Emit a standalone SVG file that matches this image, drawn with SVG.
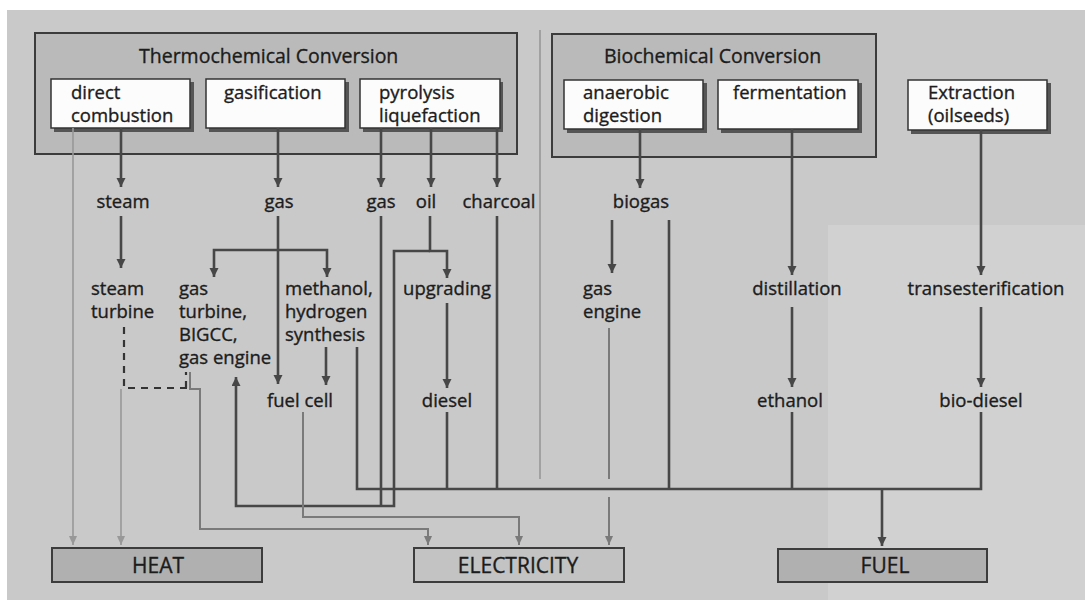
<svg xmlns="http://www.w3.org/2000/svg" width="1085" height="600" viewBox="0 0 1085 600">
<defs>
<style>
text{font-family:"Open Sans","Liberation Sans",sans-serif;font-size:18.5px;fill:#1c1c1c;stroke:#1c1c1c;stroke-width:0.35}
.title{font-size:19.5px}
.big{font-size:21px}
.mid{text-anchor:middle}
.grp{fill:#bababa;stroke:#3c3c3c;stroke-width:2}
.box{fill:#fcfcfc;stroke:#333;stroke-width:1.5}
.shadow{fill:#555}
.dk{fill:none;stroke:#474747;stroke-width:2.6}
.md{fill:none;stroke:#7a7a7a;stroke-width:2}
.lt{fill:none;stroke:#989898;stroke-width:1.6}
.dash{fill:none;stroke:#333;stroke-width:2.2;stroke-dasharray:7 6}
.out{stroke:#3c3c3c;stroke-width:2}
</style>
<marker id="aD" markerUnits="userSpaceOnUse" markerWidth="10" markerHeight="10" refX="9" refY="4.5" orient="auto"><path d="M0,0 L9,4.5 L0,9 z" fill="#474747"/></marker>
<marker id="aM" markerUnits="userSpaceOnUse" markerWidth="10" markerHeight="10" refX="9" refY="4" orient="auto"><path d="M0,0 L9,4 L0,8 z" fill="#7a7a7a"/></marker>
<marker id="aL" markerUnits="userSpaceOnUse" markerWidth="10" markerHeight="10" refX="9" refY="4" orient="auto"><path d="M0,0 L9,4 L0,8 z" fill="#989898"/></marker>
</defs>
<rect x="0" y="0" width="1085" height="600" fill="#ffffff"/>
<rect x="7" y="10" width="1078" height="590" fill="#c9c9c9"/>
<rect x="828" y="225" width="257" height="375" fill="#d1d1d1"/>
<line x1="540" y1="30" x2="540" y2="479" stroke="#8c8c8c" stroke-width="1.3"/>

<g id="thermochemical">
<rect class="grp" x="35" y="33" width="482" height="121"/>
<text class="title" x="139" y="63">Thermochemical Conversion</text>
</g>
<g id="biochemical">
<rect class="grp" x="552" y="34" width="324" height="123"/>
<text class="title" x="604" y="63">Biochemical Conversion</text>
</g>

<g id="direct-combustion">
<rect class="shadow" x="54" y="82" width="140" height="50"/>
<rect class="box" x="51" y="79" width="139" height="49"/>
<text x="71" y="99">direct</text><text x="71" y="122">combustion</text>
</g>
<g id="gasification">
<rect class="shadow" x="209" y="82" width="140" height="50"/>
<rect class="box" x="206" y="79" width="139" height="49"/>
<text x="224" y="99">gasification</text>
</g>
<g id="pyrolysis">
<rect class="shadow" x="363" y="82" width="140" height="50"/>
<rect class="box" x="360" y="79" width="140" height="49"/>
<text x="379" y="99">pyrolysis</text><text x="379" y="122">liquefaction</text>
</g>
<g id="anaerobic">
<rect class="shadow" x="567" y="83" width="140" height="50"/>
<rect class="box" x="564" y="80" width="139" height="49"/>
<text x="583" y="99">anaerobic</text><text x="583" y="122">digestion</text>
</g>
<g id="fermentation">
<rect class="shadow" x="721" y="83" width="141" height="50"/>
<rect class="box" x="718" y="80" width="140" height="49"/>
<text x="733" y="99">fermentation</text>
</g>
<g id="extraction">
<rect class="shadow" x="911" y="83" width="140" height="51"/>
<rect class="box" x="908" y="80" width="139" height="50"/>
<text x="928" y="99">Extraction</text><text x="928" y="122">(oilseeds)</text>
</g>

<g id="steam"><text class="mid" x="123" y="208">steam</text></g>
<g id="gas1"><text class="mid" x="279" y="208">gas</text></g>
<g id="gas2"><text class="mid" x="381" y="208">gas</text></g>
<g id="oil"><text class="mid" x="426" y="208">oil</text></g>
<g id="charcoal"><text class="mid" x="499" y="208">charcoal</text></g>
<g id="biogas"><text class="mid" x="641" y="208">biogas</text></g>

<g id="steam-turbine"><text x="91" y="295">steam</text><text x="91" y="318">turbine</text></g>
<g id="gas-turbine"><text x="179" y="295">gas</text><text x="179" y="318">turbine,</text><text x="179" y="341">BIGCC,</text><text x="179" y="364">gas engine</text></g>
<g id="methanol"><text x="285" y="295">methanol,</text><text x="285" y="318">hydrogen</text><text x="285" y="341">synthesis</text></g>
<g id="upgrading"><text class="mid" x="447" y="295">upgrading</text></g>
<g id="bio-gas-engine"><text x="583" y="295">gas</text><text x="583" y="318">engine</text></g>
<g id="distillation"><text class="mid" x="797" y="295">distillation</text></g>
<g id="transesterification"><text class="mid" x="986" y="295">transesterification</text></g>
<g id="fuel-cell"><text class="mid" x="300" y="407">fuel cell</text></g>
<g id="diesel"><text class="mid" x="447" y="407">diesel</text></g>
<g id="ethanol"><text class="mid" x="790" y="407">ethanol</text></g>
<g id="bio-diesel"><text class="mid" x="981" y="407">bio-diesel</text></g>

<g id="heat"><rect class="out" x="52" y="548" width="210" height="34" fill="#b0b0b0"/><text class="big mid" x="158" y="573">HEAT</text></g>
<g id="electricity"><rect class="out" x="414" y="548" width="210" height="34" fill="#c3c3c3"/><text class="big mid" x="518" y="573">ELECTRICITY</text></g>
<g id="fuel"><rect class="out" x="778" y="549" width="209" height="33" fill="#b0b0b0"/><text class="big mid" x="885" y="573">FUEL</text></g>

<g id="connectors">
<path class="dk" d="M121,128 V187" marker-end="url(#aD)"/>
<path class="dk" d="M278,128 V187" marker-end="url(#aD)"/>
<path class="dk" d="M381,128 V187" marker-end="url(#aD)"/>
<path class="dk" d="M431,128 V187" marker-end="url(#aD)"/>
<path class="dk" d="M497,128 V187" marker-end="url(#aD)"/>
<path class="dk" d="M640,129 V188" marker-end="url(#aD)"/>
<path class="dk" d="M792,129 V275" marker-end="url(#aD)"/>
<path class="dk" d="M981,130 V275" marker-end="url(#aD)"/>

<path class="dk" d="M121,216 V268" marker-end="url(#aD)"/>
<path class="dk" d="M278,216 V384" marker-end="url(#aD)"/>
<path class="dk" d="M278,250 H214 V277" marker-end="url(#aD)"/>
<path class="dk" d="M278,250 H327 V277" marker-end="url(#aD)"/>
<path class="dk" d="M326,347 V385" marker-end="url(#aD)"/>
<path class="dk" d="M430,216 V251 H447 V278" marker-end="url(#aD)"/>
<path class="dk" d="M430,251 H394 V506 H236 V377" marker-end="url(#aD)"/>
<path class="dk" d="M381,216 V506"/>
<path class="dk" d="M447,303 V388" marker-end="url(#aD)"/>
<path class="dk" d="M612,220 V273" marker-end="url(#aD)"/>
<path class="dk" d="M792,307 V387" marker-end="url(#aD)"/>
<path class="dk" d="M981,307 V387" marker-end="url(#aD)"/>

<path class="dk" d="M357,347 V489 H981 V412"/>
<path class="dk" d="M447,412 V489"/>
<path class="dk" d="M497,216 V489"/>
<path class="dk" d="M669,220 V489"/>
<path class="dk" d="M792,412 V489"/>
<path class="dk" d="M882,489 V546" marker-end="url(#aD)"/>

<path class="dash" d="M124,327 V388 H188"/>
<path class="dash" d="M186,388 V372" stroke-dasharray="7 4"/>

<path class="md" d="M190,372 V389 H200 V529 H428 V545" marker-end="url(#aM)"/>
<path class="md" d="M303,412 V517 H519 V545" marker-end="url(#aM)"/>
<path class="md" d="M609,328 V479"/>
<path class="md" d="M609,497 V545" marker-end="url(#aM)"/>

<path class="lt" d="M73,128 V545" marker-end="url(#aL)"/>
<path class="lt" d="M121,389 V545" marker-end="url(#aL)"/>
</g>
</svg>
